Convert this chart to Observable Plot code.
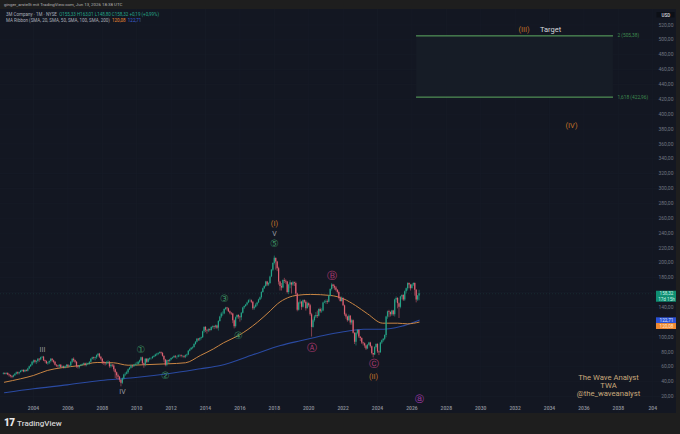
<!DOCTYPE html>
<html><head><meta charset="utf-8">
<script src="https://cdn.jsdelivr.net/npm/d3@7"></script>
<script src="https://cdn.jsdelivr.net/npm/@observablehq/plot@0.6"></script>
<style>
html,body{margin:0;padding:0;background:#1e1e1e;width:680px;height:434px;overflow:hidden;font-family:Roboto,sans-serif}
#head{height:9px;font-size:4.4px;line-height:9px;padding-left:4px;color:#b4b4b4;white-space:nowrap}
#chart{width:676px;height:404px;position:relative}
#chart svg{display:block}
#legend{position:absolute;left:6px;top:3px;font-size:4.5px;line-height:5.6px;color:#a9adb8;white-space:nowrap}
#foot{height:21px;line-height:20px;padding-left:4px;color:#d4d4d4;white-space:nowrap;font-weight:500;font-size:8px}
#foot b{font-weight:900;font-size:10px;letter-spacing:-.5px;margin-right:2.5px;color:#e8e8e8}
</style></head><body>
<div id="head">ginger_arstellt mit TradingView.com, Jun 13, 2026 18:38 UTC</div>
<div id="chart"><div id="legend"></div></div>
<div id="foot"><b>17</b>TradingView</div>
<script>
// Monthly closes, Apr 2002 to Jun 2026
const closes = [
51,50,51,49,48,47,46,48,50,
52,50.5,52,54,55,53,55,54,57,60,62,66,
68,66,67,70,69,72,73,68,67,64,65,67,
70,68,66,62,61,60,62,59,60,58,60,62,
60,61,66,70,68,66,60,59,61,62,63,64,
62,63,64,66,70,72,71,72,75,77,73,70,
66,65,64,65,66,60,62,61,56,52,48,46,
42,38,44,49,50,52,56,58,61,60,62,63,
63,66,68,72,64,62,70,66,70,71,71,73,
74,76,77,78,79,78,74,69,62,68,67,69,
71,72,74,73,73,75,75,74,74,73,75,76,
81,83,85,86,90,93,97,96,98,99,107,113,
109,108,110,109,113,114,113,115,112,121,127,131,
131,137,139,138,134,132,131,122,114,126,129,127,
126,132,139,141,143,146,149,149,147,138,140,143,
146,150,153,160,165,168,174,170,172,181,190,199,
206,201,192,174,168,166,176,175,174,160,170,173,
170,173,172,158,136,146,147,140,149,147,138,145,
142,130,113,122,127,129,128,137,134,135,146,147,
148,147,155,164,170,168,166,163,160,152,148,152,
142,130,127,122,128,119,122,105,93,105,109,100,
98,92,91,88,84,89,92,87,78,76,86,90,
80,79,92,95,97,102,127,134,133,130,135,130,
150,152,145,140,154,156,150,161,165,172,170,165,
170,172,163,150,155.33,158.32];
const highs = [
52,52,52,52,50,49,48,49,51,
53,53,53,55,56,56,56,56,58,61,63,67,
69,69,68,71,71,73,74,74,69,68,66,68,
71,71,69,67,63,62,63,63,61,61,61,63,
63,62,67,71,72,69,67,61,62,63,64,65,
65,65,65,67,71,73,73,73,76,78,78,74,
71,67,66,67,68,67,64,63,63,57,53,50,
47,43,45,50,52,54,57,59,62,62,63,65,
66,67,69,73,73,65,71,71,71,72,72,74,
75,77,78,79,80,80,79,75,70,69,69,70,
72,73,75,75,74,76,76,76,75,75,76,77,
82,84,86,87,91,94,98,98,99,100,108,114,
114,110,111,111,114,115,115,116,116,122,128,133,
134,138,140,140,139,135,133,132,123,127,130,130,
128,133,140,142,144,147,150,151,150,148,142,145,
147,151,154,161,166,169,175,175,173,182,191,200,
209,206,202,194,175,172,177,179,177,175,171,176,
172,175,174,174,159,147,150,148,150,150,149,147,
146,144,132,124,129,133,135,138,139,138,147,149,
150,150,156,165,172,171,170,168,164,162,154,154,
153,143,132,128,130,129,124,123,106,106,110,110,
100,99,93,92,89,90,93,93,88,78,87,91,
91,81,93,96,98,103,128,135,136,134,136,136,
151,154,153,146,155,157,157,162,166,173,173,171,
171,173,173,164,156,163.01];
const lows = [
49,49,49,48,46,45,44,45,47,
49,49,49,52,53,52,52,53,53,56,59,61,
64,64,63,65,66,68,71,67,65,63,62,63,
65,66,64,61,59,58,58,58,58,57,57,59,
58,59,60,64,66,64,58,57,57,60,61,62,
60,60,62,62,65,69,69,68,70,73,71,68,
63,62,61,62,63,58,58,59,53,44,43,42,
39,33,36,42,47,49,50,55,57,58,59,61,
61,62,64,67,62,58,60,64,65,68,69,70,
72,73,74,75,77,76,73,66,60,60,64,65,
68,70,71,71,70,72,73,72,72,71,71,73,
75,80,82,83,85,89,92,94,94,96,98,105,
106,104,106,107,108,111,110,111,110,108,120,125,
128,130,136,135,133,130,129,118,111,112,124,124,
120,122,131,137,140,142,145,147,145,136,136,139,
141,145,149,151,159,164,167,168,168,171,180,188,
197,190,188,170,162,162,165,172,171,158,157,165,
158,168,168,155,134,135,144,136,139,145,135,138,
140,128,100,112,120,125,125,127,132,132,134,145,
144,144,146,154,162,165,163,161,158,150,147,147,
141,128,124,120,121,116,116,104,90,88,103,98,
94,90,88,85,82,83,88,85,76,72,75,84,
78,75,78,90,93,95,99,124,126,127,128,128,
127,146,138,125,138,150,148,148,158,162,165,162,
165,168,155,146,148,148.8];
const firstOpen = 50;
const firstYear = 2002.25;

// Moving averages
const orangeYears = [2002.31,2003.24,2004,2004.8,2005.6,2006.7,2007.7,2008.65,2009.5,2010.4,2011.8,2012.84,2013.7,2014.47,2015.05,2015.92,2017.02,2017.78,2018.19,2018.77,2019.35,2020.1,2021.27,2022.02,2022.72,2023.42,2024.3,2025.16,2025.74,2026.42];
const orangeValues = [39.2,43.8,48.3,55,58.6,61.7,65.8,65.4,62.1,62.7,64,65.4,75.2,84.2,92.3,102.1,120,135.7,144.8,152.8,156.3,157.4,156,151.5,142.5,131.3,118.7,118.7,117.8,120.08];
const blueYears = [2002.31,2004,2005.96,2007.9,2009.8,2011.8,2013.7,2014.87,2016.79,2018.36,2019.52,2020.86,2022.02,2023.19,2024.35,2025.34,2026.42];
const blueValues = [25,30.4,35.7,41.5,45.2,50.6,57.3,61.7,76.5,88.6,95.1,102.1,107.1,110.6,110.6,114.2,122.71];

// Wave labels
const greenYears=[2010.25,2011.67,2015.1,2015.92,2018.01];
const greenValues=[82.6,48.3,151,102,226];
const greenText=["①","②","③","④","⑤"];
const pinkYears=[2020.19,2021.38,2023.77];
const pinkValues=[85.3,182.2,64.4];
const pinkText=["Ⓐ","Ⓑ","Ⓒ"];
const romanYears=[2004.52,2009.17,2018.01];
const romanValues=[83.3,26.7,239.4];
const romanText=["III","IV","V"];
const orangeLabelYears=[2018.01,2023.77,2032.52,2035.28];
const orangeLabelValues=[252.8,46.9,514,384.7];
const orangeLabelText=["(I)","(II)","(III)","(IV)"];

// Fibonacci target
const fibStart=2026.27, fibEnd=2037.72, fibLabelYear=2037.95;
const fibLevels=[505.38,422.96];
const fibText=["2 (505,38)","1,618 (422,96)"];

const watermark=["The Wave Analyst","TWA","@the_waveanalyst"];
const watermarkValues=[45.6,34.8,24];
const priceTicks=d3.range(20,521,20);
const axisTicks=priceTicks.filter(d=>d!==120&&d!==160); // these two sit behind the price tags
const yearTicks=d3.range(2004,2041,2);

const panel="#131722", up="#25a387", down="#dc5f70";
const table=closes.map((c,i)=>({t:firstYear+i/12,open:i?closes[i-1]:firstOpen,close:c,high:highs[i],low:lows[i]}));
const col=d=>d.close>=d.open?up:down;
const zip=(xs,ys,ts)=>xs.map((x,i)=>({x,y:ys[i],s:ts?ts[i]:null}));
const font="Roboto, sans-serif";
const sym="DejaVu Sans, sans-serif";

const tags=[
 {y1:146.9,y2:161.7,fill:"#0f8f72"},
 {y1:118.2,y2:125.9,fill:"#2b52d6"},
 {y1:110.2,y2:118.2,fill:"#ef8a33"}];
const tagText=[
 {y:158.6,s:"158,32",c:"#c8f0e4"},
 {y:150.6,s:"17d 15h",c:"#c8f0e4"},
 {y:122.1,s:"122,71",c:"#dfe6ff"},
 {y:114.2,s:"120,08",c:"#ffe6cf"}];

const plot=Plot.plot({
 width:676,height:404,margin:0,
 style:{background:panel,fontFamily:font},
 x:{domain:[2002.081,2041.384],label:null},
 y:{domain:[-2.88,540.9],label:null},
 marks:[
  Plot.gridY(priceTicks,{stroke:"#181d29",strokeOpacity:1,strokeWidth:.6}),
  Plot.gridX(yearTicks,{stroke:"#181d29",strokeOpacity:1,strokeWidth:.6}),
  Plot.ruleY([158.32],{stroke:"#2a7f70",strokeOpacity:.3,strokeWidth:.6,strokeDasharray:"1,2"}),
  Plot.rect([0],{x1:()=>fibStart,x2:()=>fibEnd,y1:()=>fibLevels[1],y2:()=>fibLevels[0],fill:"#161c26"}),
  Plot.ruleY(fibLevels,{x1:fibStart,x2:fibEnd,stroke:"#5fae62",strokeWidth:1}),
  Plot.text(fibLevels.map((y,i)=>({y,s:fibText[i]})),{x:()=>fibLabelYear,y:"y",text:"s",textAnchor:"start",fill:"#3f8a4f",fontSize:4.8}),
  Plot.line(zip(blueYears,blueValues),{x:"x",y:"y",stroke:"#2a4aa2",strokeWidth:1.1,curve:"monotone-x"}),
  Plot.line(zip(orangeYears,orangeValues),{x:"x",y:"y",stroke:"#c98543",strokeWidth:1,curve:"monotone-x"}),
  Plot.ruleX(table,{x:"t",y1:"low",y2:"high",stroke:col,strokeWidth:.55}),
  Plot.ruleX(table,{x:"t",y1:"open",y2:"close",stroke:col,strokeWidth:1.25}),
  Plot.axisY({anchor:"right",ticks:axisTicks,tickSize:0,tickPadding:-3,textAnchor:"end",label:null,
    tickFormat:d=>d.toFixed(2).replace(".",","),fontSize:5,fill:"#6f7480"}),
  Plot.axisX({anchor:"bottom",ticks:yearTicks,tickSize:0,tickPadding:-7.5,label:null,
    tickFormat:d=>d===2040?"204":String(d),fontSize:5,fontWeight:600,fill:"#8a8e99"}),
  Plot.rect(tags,{x1:()=>2040.22,x2:()=>2041.384,y1:"y1",y2:"y2",fill:"fill"}),
  Plot.text(tagText,{x:()=>2040.8,y:"y",text:"s",fill:"c",fontSize:4.6}),
  Plot.rect([0],{x1:()=>2040.25,x2:()=>2041.3,y1:()=>529.5,y2:()=>536.8,fill:"#0c0f16"}),
  Plot.text(["USD"],{x:()=>2040.77,y:()=>533,text:d=>d,fill:"#c9ccd3",fontSize:4.6,fontWeight:600}),
  Plot.text(zip(greenYears,greenValues,greenText),{x:"x",y:"y",text:"s",fill:"#3a8a5e",fontSize:10,fontFamily:sym}),
  Plot.text(zip(pinkYears,pinkValues,pinkText),{x:"x",y:"y",text:"s",fill:"#b83c76",fontSize:10,fontFamily:sym}),
  Plot.text(["ⓐ"],{x:()=>2026.44,y:()=>16,text:d=>d,fill:"#a63cb0",fontSize:8.5,fontFamily:sym}),
  Plot.text(zip(romanYears,romanValues,romanText),{x:"x",y:"y",text:"s",fill:"#9a9ca3",fontSize:7}),
  Plot.text(zip(orangeLabelYears,orangeLabelValues,orangeLabelText),{x:"x",y:"y",text:"s",fill:"#c07228",fontSize:7.5}),
  Plot.text(["Target"],{x:()=>2034.06,y:()=>514,text:d=>d,fill:"#d6d8dc",fontSize:7.5}),
  Plot.text(watermark.map((s,i)=>({s,y:watermarkValues[i]})),{x:()=>2037.43,y:"y",text:"s",fill:"#c9a97c",fontSize:7.7})
 ]});
document.getElementById("chart").prepend(plot);
document.getElementById("legend").innerHTML=
 '3M Company · 1M · NYSE &nbsp;<span style="color:#25a387">O155,33 H163,01 L148,80 C158,32 +0,19 (+0,99%)</span><br>'+
 'MA Ribbon (SMA, 20, SMA, 50, SMA, 100, SMA, 200) &nbsp;<span style="color:#ef8a33">120,08</span> &nbsp;<span style="color:#3f63d8">122,71</span>';
</script>
</body></html>
